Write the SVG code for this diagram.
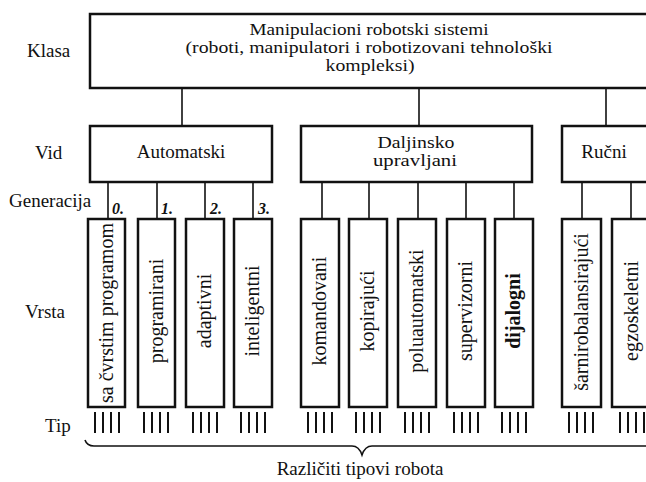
<svg xmlns="http://www.w3.org/2000/svg" width="646" height="482" viewBox="0 0 646 482" font-family="'Liberation Serif', 'DejaVu Serif', serif">
<style>
text{font-family:"Liberation Serif","DejaVu Serif",serif;fill:#111;}
.lbl{font-size:19px;}
.box{fill:#fff;stroke:#111;stroke-width:2.5;}
.c{stroke:#111;stroke-width:1.6;fill:none;}
.tip{stroke:#111;stroke-width:2;}
.v{font-size:20px;text-anchor:middle;}
.g{font-size:16px;font-style:italic;font-weight:bold;}
.m{text-anchor:middle;font-size:19px;}
.s{text-anchor:middle;font-size:16.5px;}
</style>
<rect width="646" height="482" fill="#fff"/>
<g id="labels">
<text class="lbl" x="27" y="57">Klasa</text>
<text class="lbl" x="35" y="159">Vid</text>
<text class="lbl" x="9" y="207">Generacija</text>
<text class="lbl" x="25" y="318">Vrsta</text>
<text class="lbl" x="45" y="432">Tip</text>
</g>
<g id="connectors">
<line class="c" x1="182" y1="88" x2="182" y2="126"/>
<line class="c" x1="419" y1="88" x2="419" y2="126"/>
<line class="c" x1="606" y1="88" x2="606" y2="126"/>
<line class="c" x1="108" y1="182" x2="108" y2="219"/>
<line class="c" x1="157" y1="182" x2="157" y2="219"/>
<line class="c" x1="205" y1="182" x2="205" y2="219"/>
<line class="c" x1="253" y1="182" x2="253" y2="219"/>
<line class="c" x1="322" y1="182" x2="322" y2="219"/>
<line class="c" x1="369" y1="182" x2="369" y2="219"/>
<line class="c" x1="418" y1="182" x2="418" y2="219"/>
<line class="c" x1="466" y1="182" x2="466" y2="219"/>
<line class="c" x1="514" y1="182" x2="514" y2="219"/>
<line class="c" x1="582" y1="182" x2="582" y2="219"/>
<line class="c" x1="631" y1="182" x2="631" y2="219"/>
</g>
<g id="generations">
<text class="g" x="112" y="214">0.</text>
<text class="g" x="161" y="214">1.</text>
<text class="g" x="210" y="214">2.</text>
<text class="g" x="258" y="214">3.</text>
</g>
<g id="klasa">
<rect class="box" x="90" y="14" width="580" height="74"/>
<text class="s" x="369" y="35" textLength="239" lengthAdjust="spacingAndGlyphs">Manipulacioni robotski sistemi</text>
<text class="s" x="369" y="53" textLength="367" lengthAdjust="spacingAndGlyphs">(roboti, manipulatori i robotizovani tehnološki</text>
<text class="s" x="370" y="71" textLength="89" lengthAdjust="spacingAndGlyphs">kompleksi)</text>
</g>
<g id="vid-automatski">
<rect class="box" x="90" y="126" width="182" height="56"/>
<text class="m" x="181" y="158">Automatski</text>
</g>
<g id="vid-daljinsko">
<rect class="box" x="301" y="126" width="231" height="56"/>
<text class="s" x="416" y="148" textLength="77" lengthAdjust="spacingAndGlyphs">Daljinsko</text>
<text class="s" x="415" y="166" textLength="84" lengthAdjust="spacingAndGlyphs">upravljani</text>
</g>
<g id="vid-rucni">
<rect class="box" x="562" y="126" width="110" height="56"/>
<text class="m" x="604" y="158">Ručni</text>
</g>
<g id="v1"><rect class="box" x="88" y="219" width="37" height="188"/><text class="v" transform="translate(113,313) rotate(-90)">sa čvrstim programom</text></g>
<g id="v2"><rect class="box" x="138" y="219" width="37" height="188"/><text class="v" transform="translate(163,311) rotate(-90)">programirani</text></g>
<g id="v3"><rect class="box" x="186" y="219" width="38" height="188"/><text class="v" transform="translate(211,311) rotate(-90)">adaptivni</text></g>
<g id="v4"><rect class="box" x="234" y="219" width="38" height="188"/><text class="v" transform="translate(259,311) rotate(-90)">inteligentni</text></g>
<g id="v5"><rect class="box" x="301" y="219" width="38" height="188"/><text class="v" transform="translate(326,311) rotate(-90)">komandovani</text></g>
<g id="v6"><rect class="box" x="349" y="219" width="38" height="188"/><text class="v" transform="translate(374,311) rotate(-90)">kopirajući</text></g>
<g id="v7"><rect class="box" x="398" y="219" width="38" height="188"/><text class="v" transform="translate(423,311) rotate(-90)">poluautomatski</text></g>
<g id="v8"><rect class="box" x="447" y="219" width="38" height="188"/><text class="v" transform="translate(472,311) rotate(-90)">supervizorni</text></g>
<g id="v9"><rect class="box" x="495" y="219" width="38" height="188"/><text class="v" font-weight="bold" transform="translate(520,311) rotate(-90)">dijalogni</text></g>
<g id="v10"><rect class="box" x="562" y="219" width="39" height="188"/><text class="v" transform="translate(588,312) rotate(-90)">šarnirobalansirajući</text></g>
<g id="v11"><rect class="box" x="612" y="219" width="40" height="188"/><text class="v" transform="translate(638,311) rotate(-90)">egzoskeletni</text></g>
<g id="tips">
<path class="tip" d="M95 412V433M103 412V433M111 412V433M119 412V433
M144 412V433M152 412V433M160 412V433M168 412V433
M193 412V433M201 412V433M209 412V433M217 412V433
M241 412V433M249 412V433M257 412V433M265 412V433
M308 412V433M316 412V433M324 412V433M332 412V433
M356 412V433M364 412V433M372 412V433M380 412V433
M405 412V433M413 412V433M421 412V433M429 412V433
M454 412V433M462 412V433M470 412V433M478 412V433
M502 412V433M510 412V433M518 412V433M526 412V433
M569 412V433M577 412V433M585 412V433M593 412V433
M620 412V433M628 412V433M636 412V433M644 412V433"/>
</g>
<g id="brace">
<path class="c" stroke-width="2" d="M85 440 Q87 446 94 446 L352 446 Q359 446 362 455 Q365 446 372 446 L650 446"/>
<text class="m" x="360" y="475">Različiti tipovi robota</text>
</g>
</svg>
